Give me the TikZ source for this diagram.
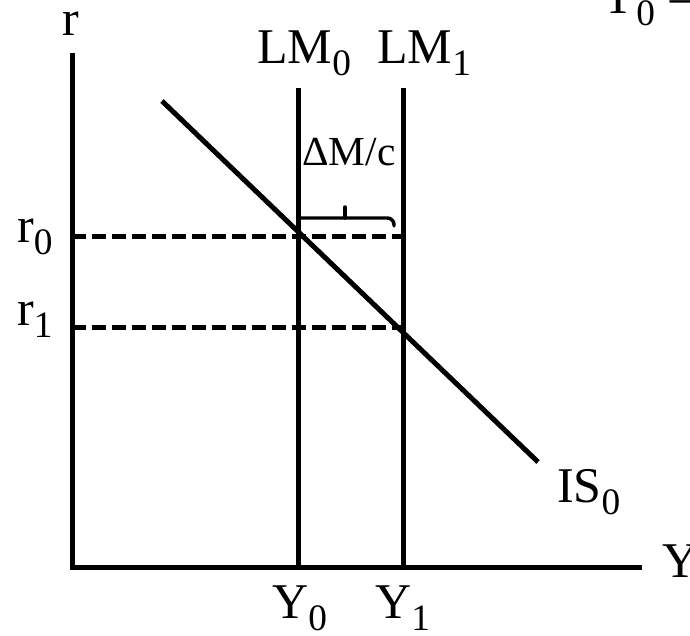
\documentclass[tikz,border=0pt]{standalone}
\usepackage{fontspec}
\setmainfont{Liberation Serif}
\usetikzlibrary{positioning, calc}
\newcommand{\sbs}[1]{\raisebox{-9pt}{\fontsize{28}{28}\selectfont #1}}

\begin{document}
\begin{tikzpicture}[x=0.75pt, y=-0.75pt,
  font=\fontsize{37.5}{40}\selectfont,
  ln/.style={line width=3.75pt},
  lvl/.style={line width=3.75pt, dash pattern=on 10.5pt off 4.5pt},
  brc/.style={line width=2.6pt, line cap=round, rounded corners=5pt},
  lbl/.style={inner sep=0pt, anchor=base west}]
\useasboundingbox (0,0) rectangle (690,636);

% axes
\coordinate (top) at (72,53);
\coordinate (orig) at (72,567);
\coordinate (xend) at (642,567);
\draw[ln] (top) -- (orig) -- (xend);

% LM curves
\coordinate (lm0t) at (298,88);
\coordinate (lm0b) at (298,567);
\coordinate (lm1t) at (403,88);
\coordinate (lm1b) at (403,567);
\foreach \frm/\tto in {lm0t/lm0b, lm1t/lm1b}
  {\draw[ln] (\frm) -- (\tto);}

% IS curve
\coordinate (ist) at (162,101);
\coordinate (isb) at (538,462);
\draw[ln] (ist) -- (isb);

% interest levels
\coordinate (r0a) at (72,236);
\coordinate (r0b) at (403,236);
\coordinate (r1a) at (72,327);
\coordinate (r1b) at (403,327);
\foreach \frm/\tto in {r0a/r0b, r1a/r1b}
  {\draw[lvl] (\frm) -- (\tto);}

% shift of LM
\coordinate (bra) at (298,218);
\coordinate (brc) at (394,218);
\coordinate (brb) at (394,226);
\coordinate (brm) at (345,218);
\coordinate (brt) at (345,207);
\draw[brc] (bra) -- (brc) -- (brb);
\draw[brc] (brm) -- (brt);

\node[lbl, anchor=base] (rlab) at (71,35) {r};
\node[lbl] (lm0lab) at (257,63) {LM\sbs{0}};
\node[lbl] (lm1lab) at (377,63) {LM\sbs{1}};
\node[lbl] (r0lab) at (17,242) {r\sbs{0}};
\node[lbl] (r1lab) at (17,325) {r\sbs{1}};
\node[lbl, font=\fontsize{31}{33}\selectfont] (dmlab) at (302,165) {ΔM/c};
\node[lbl] (islab) at (557,502) {IS\sbs{0}};
\node[lbl] (ylab) at (662,577) {Y};
\node[lbl] (y0lab) at (272,618) {Y\sbs{0}};
\node[lbl] (y1lab) at (375,618) {Y\sbs{1}};
\node[lbl] (toplab) at (600,13) {Y\sbs{0} =};

\end{tikzpicture}
\end{document}
